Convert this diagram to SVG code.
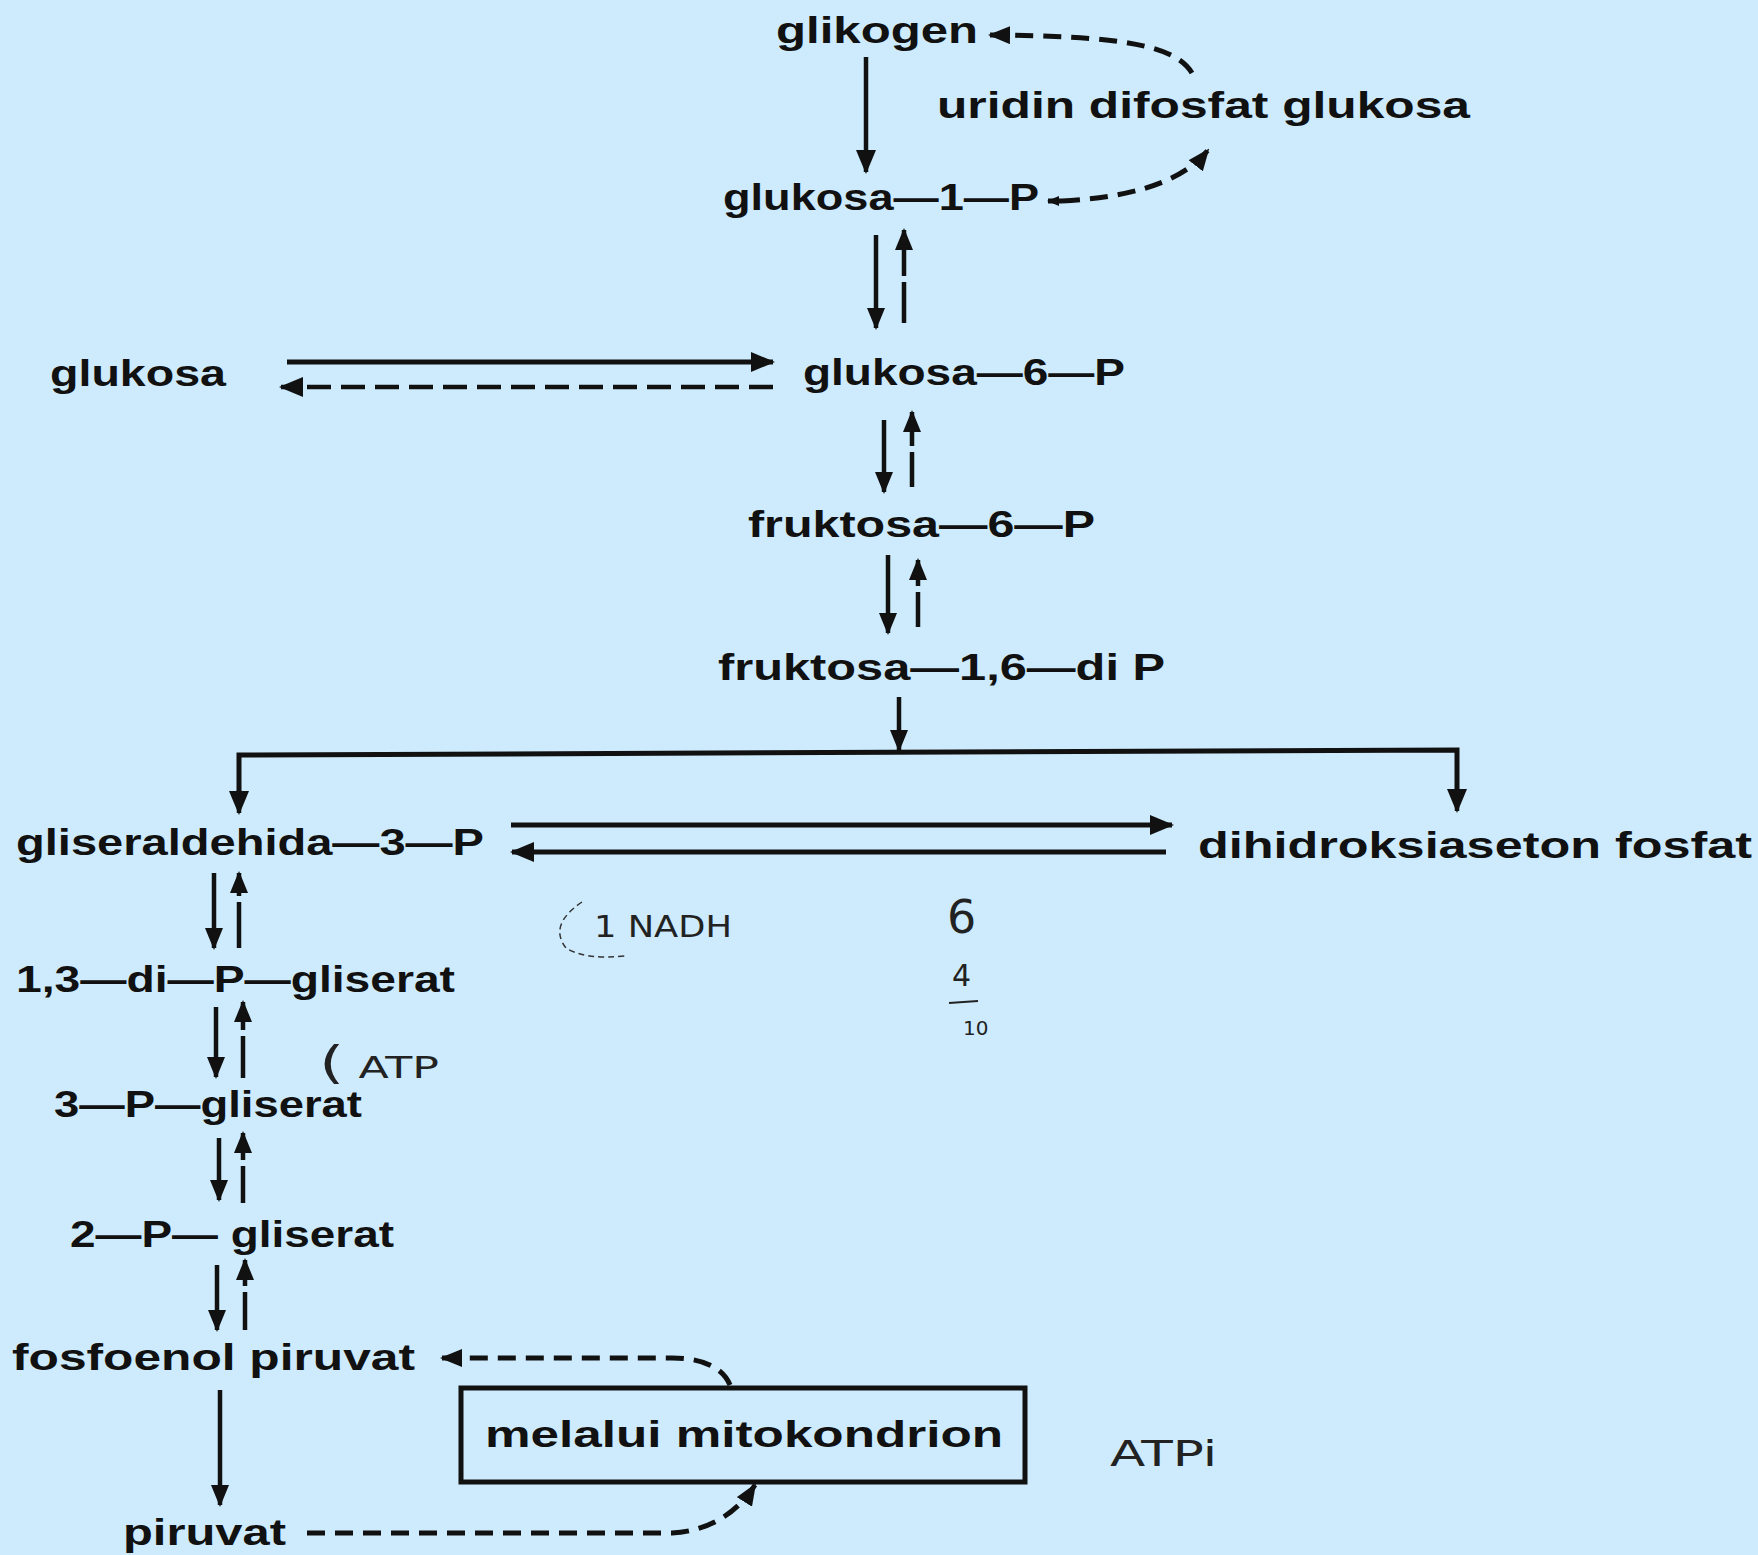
<svg xmlns="http://www.w3.org/2000/svg" width="1758" height="1555" viewBox="0 0 1758 1555">
<defs>
<style>
.t{font-family:"Liberation Sans",Arial,sans-serif;font-weight:bold;font-size:37px;fill:#111}
.h{font-family:"DejaVu Sans","Liberation Sans",sans-serif;fill:#222}
.ln{fill:none;stroke:#111;stroke-width:4.5}
.thk{fill:none;stroke:#111;stroke-width:5}
.ds{fill:none;stroke:#111;stroke-width:5;stroke-dasharray:18 10}
.dl{fill:none;stroke:#111;stroke-width:4.5;stroke-dasharray:24 10}
</style>
<marker id="ah" viewBox="0 0 24 20" refX="22" refY="10" markerWidth="24" markerHeight="20" orient="auto" markerUnits="userSpaceOnUse"><path d="M0,0 L24,10 L0,20 z" fill="#111"/></marker>
<marker id="as" viewBox="0 0 22 18" refX="20" refY="9" markerWidth="22" markerHeight="18" orient="auto" markerUnits="userSpaceOnUse"><path d="M0,0 L22,9 L0,18 z" fill="#111"/></marker>
<marker id="at" viewBox="0 0 12 10" refX="11" refY="5" markerWidth="12" markerHeight="10" orient="auto" markerUnits="userSpaceOnUse"><path d="M0,0 L12,5 L0,10 z" fill="#111"/></marker>
</defs>
<rect width="1758" height="1555" fill="#cdebfd"/>

<g id="connectors">
<line class="ln" x1="866" y1="57" x2="866" y2="172" marker-end="url(#ah)"/>
<path class="ds" d="M1192,73 C1175,45 1120,36 990,35" marker-end="url(#as)"/>
<path class="ds" d="M1062,201 C1120,198 1180,186 1208,150" marker-end="url(#as)"/>
<path class="ds" d="M1062,201 L1048,201" stroke-dasharray="none" marker-end="url(#at)"/>
<line class="ln" x1="876" y1="235" x2="876" y2="328" marker-end="url(#as)"/>
<path class="ln" d="M904,323 L904,282 M904,276 L904,230" marker-end="url(#as)"/>
<line class="thk" x1="287" y1="362" x2="773" y2="362" marker-end="url(#ah)"/>
<line class="dl" x1="773" y1="387" x2="281" y2="387" marker-end="url(#ah)"/>
<line class="ln" x1="884" y1="420" x2="884" y2="492" marker-end="url(#as)"/>
<path class="ln" d="M912,487 L912,452 M912,446 L912,412" marker-end="url(#as)"/>
<line class="ln" x1="888" y1="555" x2="888" y2="633" marker-end="url(#as)"/>
<path class="ln" d="M918,627 L918,592 M918,586 L918,560" marker-end="url(#as)"/>
<line class="ln" x1="899" y1="697" x2="899" y2="750" marker-end="url(#as)"/>
<path class="thk" d="M239,800 L239,755 L1457,750 L1457,800" stroke-linejoin="miter"/>
<line class="ln" x1="239" y1="790" x2="239" y2="813" marker-end="url(#ah)"/>
<line class="ln" x1="1457" y1="790" x2="1457" y2="811" marker-end="url(#ah)"/>
<line class="thk" x1="511" y1="825" x2="1172" y2="825" marker-end="url(#ah)"/>
<line class="thk" x1="1166" y1="852" x2="512" y2="852" marker-end="url(#ah)"/>
<line class="ln" x1="214" y1="873" x2="214" y2="948" marker-end="url(#as)"/>
<path class="ln" d="M239,948 L239,902 M239,896 L239,873" marker-end="url(#as)"/>
<line class="ln" x1="216" y1="1007" x2="216" y2="1077" marker-end="url(#as)"/>
<path class="ln" d="M243,1078 L243,1036 M243,1030 L243,1002" marker-end="url(#as)"/>
<line class="ln" x1="219" y1="1138" x2="219" y2="1200" marker-end="url(#as)"/>
<path class="ln" d="M243,1203 L243,1166 M243,1160 L243,1133" marker-end="url(#as)"/>
<line class="ln" x1="217" y1="1265" x2="217" y2="1330" marker-end="url(#as)"/>
<path class="ln" d="M245,1330 L245,1292 M245,1286 L245,1260" marker-end="url(#as)"/>
<line class="ln" x1="220" y1="1390" x2="220" y2="1505" marker-end="url(#as)"/>
<path class="ds" d="M730,1385 C722,1366 700,1358 672,1358 L442,1358" marker-end="url(#as)"/>
<path class="ds" d="M307,1533 L672,1533 C710,1531 738,1512 755,1485" marker-end="url(#as)"/>
</g>

<g id="n-glikogen"><text class="t" x="776" y="43" textLength="202" lengthAdjust="spacingAndGlyphs">glikogen</text></g>
<g id="n-udpg"><text class="t" x="937" y="118" textLength="533" lengthAdjust="spacingAndGlyphs">uridin difosfat glukosa</text></g>
<g id="n-g1p"><text class="t" x="723" y="210" textLength="316" lengthAdjust="spacingAndGlyphs">glukosa—1—P</text></g>
<g id="n-glukosa"><text class="t" x="50" y="386" textLength="176" lengthAdjust="spacingAndGlyphs">glukosa</text></g>
<g id="n-g6p"><text class="t" x="803" y="385" textLength="322" lengthAdjust="spacingAndGlyphs">glukosa—6—P</text></g>
<g id="n-f6p"><text class="t" x="748" y="537" textLength="347" lengthAdjust="spacingAndGlyphs">fruktosa—6—P</text></g>
<g id="n-f16dp"><text class="t" x="718" y="680" textLength="447" lengthAdjust="spacingAndGlyphs">fruktosa—1,6—di P</text></g>
<g id="n-g3p"><text class="t" x="16" y="855" textLength="468" lengthAdjust="spacingAndGlyphs">gliseraldehida—3—P</text></g>
<g id="n-dhap"><text class="t" x="1198" y="858" textLength="554" lengthAdjust="spacingAndGlyphs">dihidroksiaseton fosfat</text></g>
<g id="n-13dpg"><text class="t" x="16" y="992" textLength="439" lengthAdjust="spacingAndGlyphs">1,3—di—P—gliserat</text></g>
<g id="n-3pg"><text class="t" x="54" y="1117" textLength="308" lengthAdjust="spacingAndGlyphs">3—P—gliserat</text></g>
<g id="n-2pg"><text class="t" x="70" y="1247" textLength="324" lengthAdjust="spacingAndGlyphs">2—P— gliserat</text></g>
<g id="n-pep"><text class="t" x="12" y="1370" textLength="403" lengthAdjust="spacingAndGlyphs">fosfoenol piruvat</text></g>
<g id="n-mito"><rect x="461" y="1388" width="564" height="94" fill="none" stroke="#111" stroke-width="5"/><text class="t" x="485" y="1447" textLength="518" lengthAdjust="spacingAndGlyphs">melalui mitokondrion</text></g>
<g id="n-piruvat"><text class="t" x="123" y="1545" textLength="163" lengthAdjust="spacingAndGlyphs">piruvat</text></g>

<g id="notes">
<path d="M582,902 Q548,925 566,948 Q585,960 625,956" fill="none" stroke="#333" stroke-width="1.5" stroke-dasharray="6 4"/>
<text class="h" x="594" y="937" style="font-size:30px" textLength="138" lengthAdjust="spacingAndGlyphs">1 NADH</text>
<text class="h" x="947" y="933" style="font-size:46px">6</text>
<text class="h" x="952" y="986" style="font-size:30px">4</text>
<line x1="949" y1="1003" x2="978" y2="1001" stroke="#222" stroke-width="2"/>
<text class="h" x="963" y="1035" style="font-size:20px">10</text>
<text class="h" x="319" y="1078" style="font-size:30px" textLength="120" lengthAdjust="spacingAndGlyphs"><tspan style="font-size:44px">(</tspan> ATP</text>
<text class="h" x="1110" y="1466" style="font-size:36px" textLength="107" lengthAdjust="spacingAndGlyphs">ATPi</text>
</g>
</svg>
